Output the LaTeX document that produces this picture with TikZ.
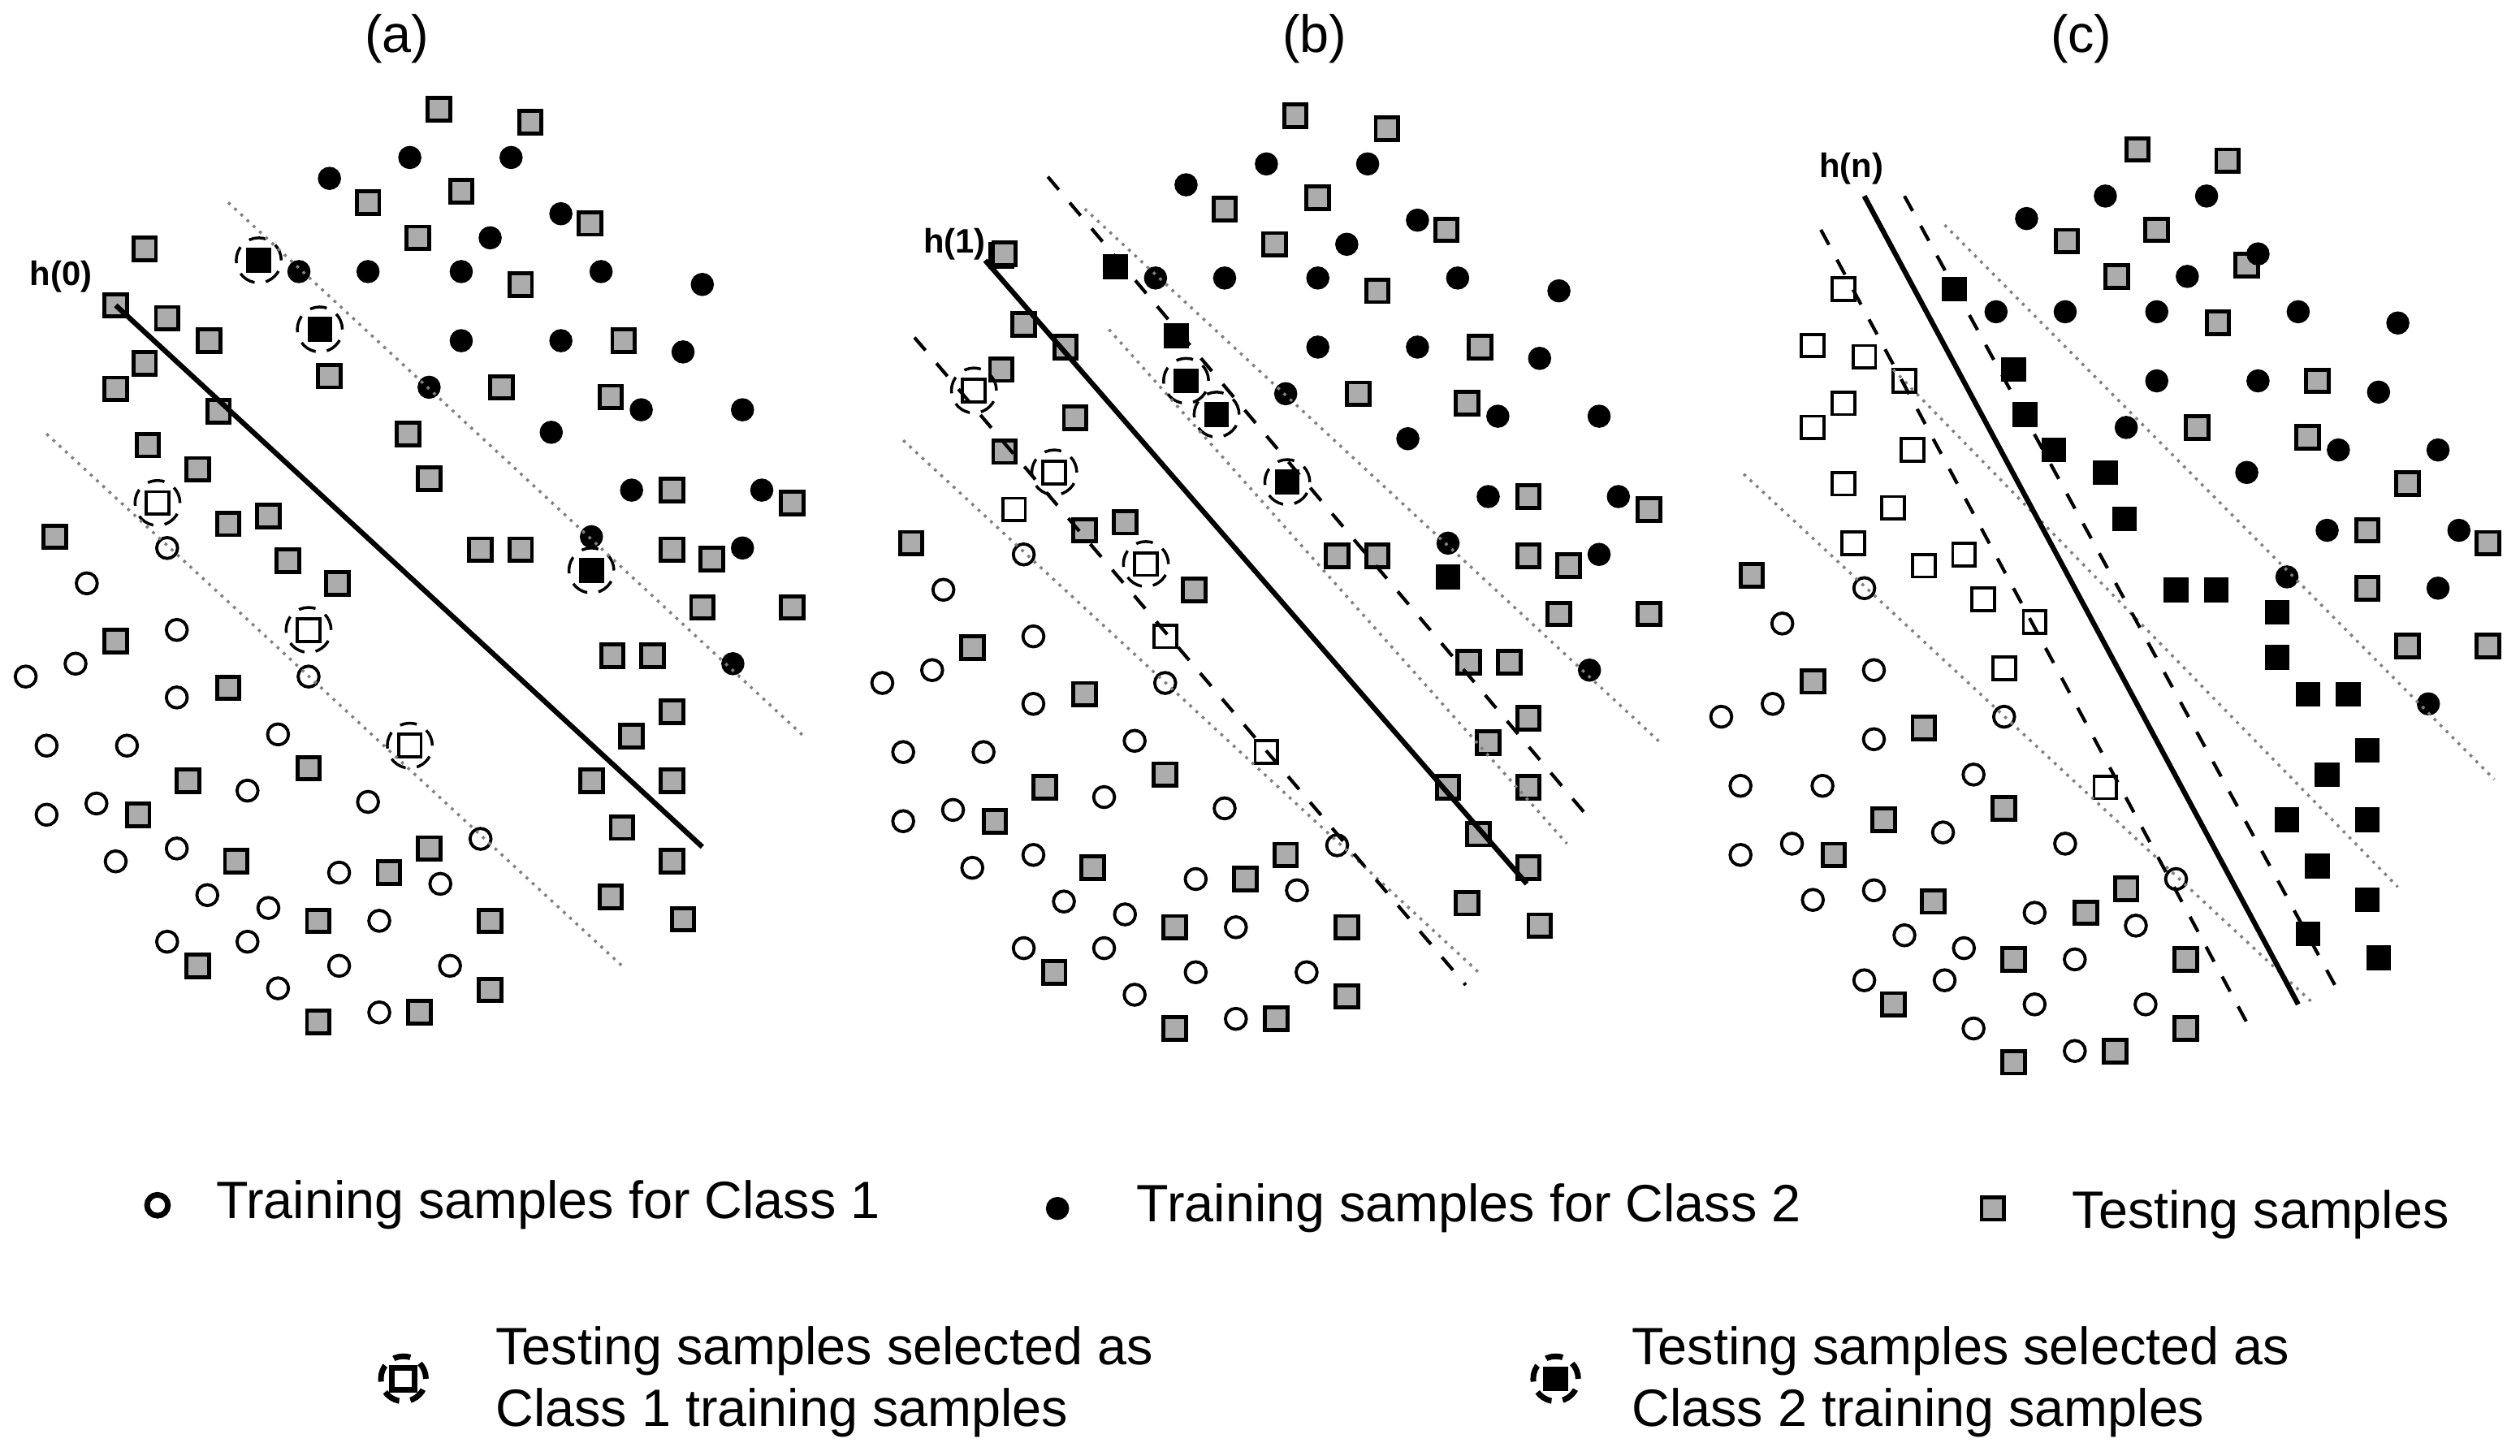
\documentclass[tikz,border=0pt]{standalone}
\usepackage{fontspec}
\setmainfont{Liberation Sans}
\begin{document}
\begin{tikzpicture}[x=0.01cm,y=-0.01cm,
  c1/.style={circle,draw,fill=white,minimum size=0.13cm,inner sep=0pt,line width=0.55pt},
  c2/.style={circle,draw,fill=black,minimum size=0.13cm,inner sep=0pt},
  ts/.style={rectangle,draw,fill=gray!65,minimum size=0.14cm,inner sep=0pt,line width=0.7pt},
  w1/.style={rectangle,draw,fill=white,minimum size=0.14cm,inner sep=0pt,line width=0.55pt},
  b2/.style={rectangle,draw,fill=black,minimum size=0.14cm,inner sep=0pt},
  sel/.style={circle,draw,densely dashed,minimum size=0.28cm,inner sep=0pt,line width=0.5pt},
  dot/.style={gray,densely dotted,line width=0.5pt},
  dsh/.style={dashed,line width=0.6pt},
  hyp/.style={line width=0.9pt},
  lab/.style={font=\bfseries\fontsize{6}{7}\selectfont},
  txt/.style={font=\fontsize{9.3}{11}\selectfont,anchor=west,align=left}]
\useasboundingbox (0,0) rectangle (1568,906);
% titles
\node[txt,anchor=center] at (247,24) {(a)};
\node[txt,anchor=center] at (818,24) {(b)};
\node[txt,anchor=center] at (1295,24) {(c)};
% panels (a) and (b): same samples, shifted
\foreach \dx/\dy in {0/0,533/4}{
  \begin{scope}[shift={(\dx,\dy)}]
  \foreach \x/\y in {273/68,330/76,229/126,287/119,90/155,260/148,367/139,104/198,130/212,90/226,324/177,388/212,380/247,312/241,136/256,92/277,142/326,167/321,210/363,299/342,324/342,418/305,493/313,418/342,443/348,437/378,493/378,34/334,72/399,142/428,117/486,86/507,147/536,192/478,242/543,267/528,305/573,198/573,123/601,198/636,261/630,305/616,381/408,406/408,418/443,393/458,418/486,368/486,387/515,418/536,380/558,425/572}
    \node[ts] at (\x,\y) {};
  \foreach \x/\y in {205/111,255/98,318/98,349/133,186/169,229/169,287/169,305/148,374/169,437/177,287/212,349/212,425/219,267/241,343/269,399/255,462/255,393/305,474/305,368/334,462/341,456/413}
    \node[c2] at (\x,\y) {};
  \foreach \x/\y in {104/341,54/363,110/392,16/421,47/413,110/434,192/421,29/464,79/464,173/457,229/499,29/507,60/500,154/492,299/522,72/536,110/528,211/543,129/557,274/550,167/565,236/573,104/586,154/586,211/601,280/601,173/615,236/630}
    \node[c1] at (\x,\y) {};
  \end{scope}}
% panel (a) extras
\foreach \x/\y in {72/190,72/242,123/292,179/349,205/234,254/270,267/298}
  \node[ts] at (\x,\y) {};
\foreach \x/\y in {98/313,192/392,255/464}{\node[w1] at (\x,\y) {};\node[sel] at (\x,\y) {};}
\foreach \x/\y in {161/162,199/205,368/355}{\node[b2] at (\x,\y) {};\node[sel] at (\x,\y) {};}
\draw[dot] (142,126) -- (500,458);
\draw[dot] (29,270) -- (387,601);
\draw[hyp] (72,190) -- (437,527);
\node[lab] at (38,172) {h(0)};
% panel (b) extras
\foreach \x/\y in {631/317,725/396,788/468}\node[w1] at (\x,\y) {};
\foreach \x/\y in {694/166,732/209,901/359}\node[b2] at (\x,\y) {};
\node[ts] at (625,158) {};
\foreach \x/\y in {606/243,656/294,713/351}{\node[w1] at (\x,\y) {};\node[sel] at (\x,\y) {};}
\foreach \x/\y in {738/237,757/258,801/300}{\node[b2] at (\x,\y) {};\node[sel] at (\x,\y) {};}
\draw[dot] (675,130) -- (1033,462);
\draw[dot] (562,274) -- (920,605);
\draw[dot] (690,205) -- (975,525);
\draw[dsh] (652,110) -- (992,513);
\draw[dsh] (569,210) -- (912,613);
\draw[hyp] (613,162) -- (950,550);
\node[lab] at (594,152) {h(1)};
% panel (c)
\foreach \x/\y in {1330/93,1386/100,1286/150,1342/143,1317/172,1398/165,1380/201,1442/237,1367/266,1436/272,1498/301,1548/338,1473/330,1473/366,1548/402,1498/402,1090/358,1128/424,1197/453,1172/510,1141/532,1203/561,1247/503,1298/568,1323/553,1360/597,1253/597,1178/625,1253/661,1316/654,1360/640}
  \node[ts] at (\x,\y) {};
\foreach \x/\y in {1261/136,1310/122,1373/122,1405/158,1242/194,1285/194,1342/194,1361/172,1430/194,1492/201,1342/237,1405/237,1480/244,1323/266,1398/294,1455/280,1517/280,1448/330,1530/330,1423/359,1517/366,1511/438}
  \node[c2] at (\x,\y) {};
\foreach \x/\y in {1160/366,1109/388,1166/417,1071/446,1103/438,1166/460,1247/446,1083/489,1134/489,1228/482,1285/525,1083/532,1115/525,1209/518,1354/547,1128/560,1166/554,1266/568,1185/582,1329/576,1222/590,1291/597,1160/610,1210/610,1266/625,1335/625,1228/640,1291/654}
  \node[c1] at (\x,\y) {};
\foreach \x/\y in {1147/180,1128/215,1160/222,1185/237,1147/251,1128/266,1190/280,1147/301,1178/316,1153/338,1197/352,1222/345,1234/373,1266/387,1247/416,1310/490}
  \node[w1] at (\x,\y) {};
\foreach \x/\y in {1216/180,1253/230,1260/258,1278/280,1310/294,1322/323,1354/367,1379/367,1417/381,1417/409,1436/432,1461/432,1473/467,1448/482,1423/510,1473/510,1442/539,1473/560,1436/581,1480/596}
  \node[b2] at (\x,\y) {};
\draw[dot] (1210,140) -- (1552,485);
\draw[dot] (1178,230) -- (1492,552);
\draw[dot] (1085,295) -- (1440,625);
\draw[dsh] (1133,143) -- (1400,640);
\draw[dsh] (1185,122) -- (1455,617);
\draw[hyp] (1160,122) -- (1430,625);
\node[lab] at (1152,105) {h(n)};
% legend
\node[c1,line width=1pt] at (98,750) {};
\node[txt] at (122,750) {Training samples for Class 1};
\node[c2] at (658,752) {};
\node[txt] at (695,752) {Training samples for Class 2};
\node[ts] at (1240,752) {};
\node[txt] at (1277,756) {Testing samples};
\node[w1,line width=1pt] at (251,858) {};\node[sel,line width=1pt] at (251,858) {};
\node[txt] at (296,860) {Testing samples selected as\\Class 1 training samples};
\node[b2] at (968,858) {};\node[sel,line width=1pt] at (968,858) {};
\node[txt] at (1003,860) {Testing samples selected as\\Class 2 training samples};
\end{tikzpicture}
\end{document}
